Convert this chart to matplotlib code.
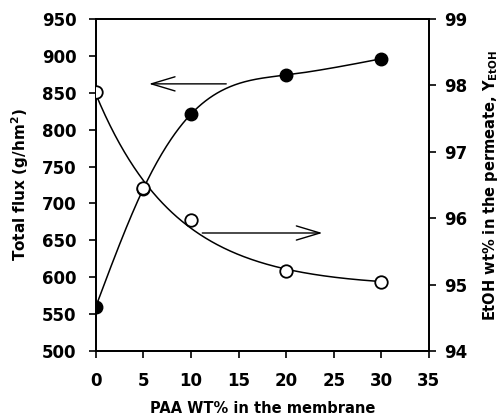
import numpy as np
import matplotlib
matplotlib.use("Agg")
import matplotlib.pyplot as plt

plt.rcParams['font.family'] = ['DejaVu Sans']
plt.rcParams['font.weight'] = 'bold'
plt.rcParams['axes.labelweight'] = 'bold'
plt.rcParams['mathtext.default'] = 'bf'

# PAA content in the membrane (wt%)
paa = [0, 5, 10, 20, 30]
# total flux, g/hm^2 (left axis)
flux = [560, 720, 821, 874, 896]
# EtOH wt% in the permeate (right axis)
etoh = [97.9, 96.45, 95.98, 95.2, 95.04]


def natural_spline(x, y, xs):
    # natural cubic spline through every point
    x = np.asarray(x, float)
    y = np.asarray(y, float)
    n = len(x)
    h = np.diff(x)
    A = np.zeros((n, n))
    r = np.zeros(n)
    A[0, 0] = A[-1, -1] = 1
    for i in range(1, n - 1):
        A[i, i - 1] = h[i - 1]
        A[i, i] = 2 * (h[i - 1] + h[i])
        A[i, i + 1] = h[i]
        r[i] = 6 * ((y[i + 1] - y[i]) / h[i] - (y[i] - y[i - 1]) / h[i - 1])
    M = np.linalg.solve(A, r)
    out = np.empty_like(xs)
    for j, v in enumerate(xs):
        k = min(np.searchsorted(x, v, side='right') - 1, n - 2)
        t1 = x[k + 1] - v
        t0 = v - x[k]
        out[j] = (M[k] * t1**3 + M[k + 1] * t0**3) / (6 * h[k]) \
            + (y[k] / h[k] - M[k] * h[k] / 6) * t1 \
            + (y[k + 1] / h[k] - M[k + 1] * h[k] / 6) * t0
    return out


def exp_fit(x, y, xs):
    # y = a + b*exp(-x/c), c picked by grid search, a and b by least squares
    x = np.asarray(x, float)
    y = np.asarray(y, float)
    best = None
    for c in np.linspace(1, 30, 600):
        A = np.column_stack([np.ones_like(x), np.exp(-x / c)])
        coef = np.linalg.lstsq(A, y, rcond=None)[0]
        err = np.sum((A @ coef - y) ** 2)
        if best is None or err < best[0]:
            best = (err, c, coef)
    _, c, (a, b) = best
    return a + b * np.exp(-xs / c)


fig = plt.figure(figsize=(5.04, 4.2), dpi=100)
ax = fig.add_axes([0.19, 0.164, 0.661, 0.791])
ax2 = ax.twinx()

xs = np.linspace(0, 30, 300)
ax.plot(xs, natural_spline(paa, flux, xs), color='black', lw=1.1)
ax.plot(paa, flux, 'o', color='black', ms=9, zorder=3)

ax2.plot(xs, exp_fit(paa, etoh, xs), color='black', lw=1.1)
ax2.plot(paa, etoh, 'o', mfc='white', mec='black', mew=1.3, ms=9, zorder=4)

ax.set_xlim(0, 35)
ax.set_ylim(500, 950)
ax2.set_ylim(94, 99)
ax.set_xticks(range(0, 36, 5))
ax.set_yticks(range(500, 951, 50))
ax2.set_yticks(range(94, 100))

for a in (ax, ax2):
    a.tick_params(direction='out', length=5, width=1.2, labelsize=12, pad=6)
    for s in a.spines.values():
        s.set_linewidth(1.3)
ax.tick_params(axis='y', pad=9)
ax.tick_params(axis='x', pad=10)

ax.set_xlabel('PAA WT% in the membrane', fontsize=10.5, labelpad=8)
ax.set_ylabel('Total flux (g/hm$^{2}$)', fontsize=11, labelpad=8)
ax2.set_ylabel('EtOH wt% in the permeate, Y$_{EtOH}$', fontsize=10.5,
               labelpad=10, rotation=90)

# arrows pointing each curve to its axis
arrow = dict(arrowstyle='->, head_length=1.0, head_width=0.3', lw=1.0,
             color='black', mutation_scale=17)
ax.annotate('', xy=(5.3, 862), xytext=(14.0, 862), arrowprops=arrow)
ax.annotate('', xy=(24.1, 660), xytext=(10.9, 660), arrowprops=arrow)

fig.savefig('out.png', dpi=100)
